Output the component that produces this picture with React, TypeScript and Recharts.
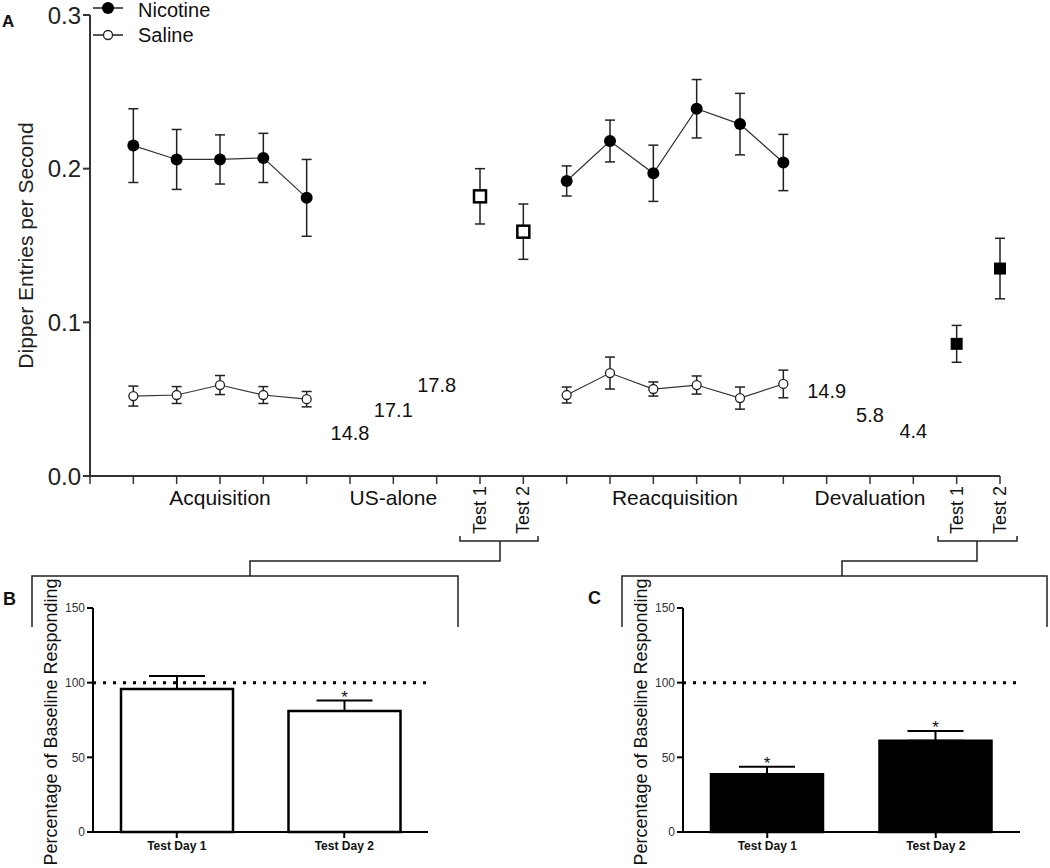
import React from 'react';
import {
  ComposedChart,
  Scatter,
  Bar,
  XAxis,
  YAxis,
  ErrorBar,
  ReferenceLine,
  LabelList,
} from 'recharts';

const FONT = 'Arial, "Liberation Sans", Helvetica, sans-serif';

// session slots along the panel A x axis
const acqSlots = [1, 2, 3, 4, 5];
const usAloneSlots = [6, 7, 8];
const extTestSlots = [9, 10];
const reacqSlots = [11, 12, 13, 14, 15, 16];
const devalSlots = [17, 18, 19];
const devalTestSlots = [20, 21];
const slotTicks = [0, 1, 2, 3, 4, 5, 6, 7, 8, 9, 10, 11, 12, 13, 14, 15, 16, 17, 18, 19, 20, 21];

// dipper entries per second
const nicotineAcq = [0.215, 0.206, 0.206, 0.207, 0.181];
const nicotineAcqErr = [0.024, 0.0195, 0.016, 0.016, 0.025];
const salineAcq = [0.052, 0.0527, 0.0592, 0.0527, 0.05];
const salineAcqErr = [0.0065, 0.0055, 0.0062, 0.0055, 0.005];
const extinctionTest = [0.182, 0.159];
const extinctionTestErr = [0.018, 0.018];
const nicotineReacq = [0.192, 0.218, 0.197, 0.239, 0.229, 0.204];
const nicotineReacqErr = [0.0098, 0.0136, 0.0183, 0.019, 0.02, 0.0183];
const salineReacq = [0.0527, 0.067, 0.0566, 0.0592, 0.0507, 0.0599];
const salineReacqErr = [0.0052, 0.0104, 0.0046, 0.0059, 0.0072, 0.009];
const devaluationTest = [0.086, 0.135];
const devaluationTestErr = [0.012, 0.0197];

// printed numbers for US-alone and devaluation sessions
const usAloneNotes = ['14.8', '17.1', '17.8'];
const usAloneNoteY = [0.028, 0.043, 0.059];
const devalNotes = ['14.9', '5.8', '4.4'];
const devalNoteY = [0.055, 0.04, 0.029];

// phase labels under the axis
const phaseNames = ['Acquisition', 'US-alone', 'Test 1', 'Test 2', 'Reacquisition', 'Devaluation', 'Test 1', 'Test 2'];
const phaseCenters = [3, 7, 9, 10, 13.5, 18, 20, 21];
const phaseVertical = [false, false, true, true, false, false, true, true];

// panels B and C
const testDays = ['Test Day 1', 'Test Day 2'];
const extinctionPct = [95.7, 81.0];
const extinctionPctErr = [8.7, 7.0];
const extinctionSig = [false, true];
const devaluationPct = [38.6, 61.1];
const devaluationPctErr = [5.1, 6.5];
const devaluationSig = [true, true];

const pts = (slots: number[], vals: number[], errs: number[]) =>
  slots.map((x, i) => ({ x, y: vals[i], err: errs[i] }));

const notes = (slots: number[], labels: string[], ys: number[]) =>
  slots.map((x, i) => ({ x, y: ys[i], note: labels[i] }));

const bars = (vals: number[], errs: number[], sig: boolean[]) =>
  testDays.map((name, i) => ({ name, value: vals[i], err: [0, errs[i]], up: errs[i], sig: sig[i] ? 1 : 0 }));

const FilledCircle = (p: any) => <circle cx={p.cx} cy={p.cy} r={6} fill="#000" />;
const OpenCircle = (p: any) => (
  <circle cx={p.cx} cy={p.cy} r={4.5} fill="#fff" stroke="#222" strokeWidth={1.3} />
);
const OpenSquare = (p: any) => (
  <rect x={p.cx - 6} y={p.cy - 6} width={12} height={12} fill="#fff" stroke="#000" strokeWidth={2.5} />
);
const FilledSquare = (p: any) => <rect x={p.cx - 6} y={p.cy - 6} width={12} height={12} fill="#000" />;
const NoteText = (p: any) => (
  <text x={p.cx} y={p.cy} textAnchor="middle" dominantBaseline="central" fontSize={20} fill="#111" fontFamily={FONT}>
    {p.payload.note}
  </text>
);

const PhaseTick = (props: any) => {
  const { x, y, payload } = props;
  const i = phaseCenters.indexOf(payload.value);
  if (i < 0) return null;
  if (phaseVertical[i]) {
    return (
      <text x={x} y={y + 2} transform={`rotate(-90 ${x} ${y + 2})`} textAnchor="end" dominantBaseline="central"
        fontSize={18} fill="#111" fontFamily={FONT}>
        {phaseNames[i]}
      </text>
    );
  }
  return (
    <text x={x} y={y + 13} textAnchor="middle" dominantBaseline="central" fontSize={21} fill="#111" fontFamily={FONT}>
      {phaseNames[i]}
    </text>
  );
};

const errProps = { dataKey: 'err', direction: 'y' as const, width: 5, stroke: '#222', strokeWidth: 1.5 };
const lineStyle = { stroke: '#333', strokeWidth: 1.2 };

const PanelA = () => (
  <ComposedChart width={1050} height={560} margin={{ top: 15, right: 50, left: 10, bottom: 0 }}>
    <XAxis xAxisId={0} type="number" dataKey="x" domain={[0, 21]} ticks={slotTicks} interval={0}
      tickFormatter={() => ''} height={8} tickSize={8} stroke="#333" strokeWidth={2}
      tickLine={{ stroke: '#333', strokeWidth: 1.5 }} />
    <XAxis xAxisId="phase" type="number" dataKey="x" domain={[0, 21]} ticks={phaseCenters} interval={0}
      axisLine={false} tickLine={false} tickSize={0} tickMargin={0} height={76} tick={<PhaseTick />} />
    <YAxis type="number" dataKey="y" domain={[0, 0.3]} ticks={[0, 0.1, 0.2, 0.3]} width={80}
      tickFormatter={(v: number) => v.toFixed(1)} tickSize={7} tickMargin={2}
      stroke="#333" strokeWidth={2} tick={{ fontSize: 24, fill: '#222', fontFamily: FONT }}
      label={{ value: 'Dipper Entries per Second', angle: -90, position: 'insideLeft', offset: 16,
        style: { textAnchor: 'middle', fontSize: 21, fill: '#222', fontFamily: FONT } }} />
    <Scatter data={pts(acqSlots, nicotineAcq, nicotineAcqErr)} dataKey="y" line={lineStyle} shape={FilledCircle} isAnimationActive={false}>
      <ErrorBar {...errProps} />
    </Scatter>
    <Scatter data={pts(acqSlots, salineAcq, salineAcqErr)} dataKey="y" line={lineStyle} shape={OpenCircle} isAnimationActive={false}>
      <ErrorBar {...errProps} />
    </Scatter>
    <Scatter data={pts(extTestSlots, extinctionTest, extinctionTestErr)} dataKey="y" shape={OpenSquare} isAnimationActive={false}>
      <ErrorBar {...errProps} />
    </Scatter>
    <Scatter data={pts(reacqSlots, nicotineReacq, nicotineReacqErr)} dataKey="y" line={lineStyle} shape={FilledCircle} isAnimationActive={false}>
      <ErrorBar {...errProps} />
    </Scatter>
    <Scatter data={pts(reacqSlots, salineReacq, salineReacqErr)} dataKey="y" line={lineStyle} shape={OpenCircle} isAnimationActive={false}>
      <ErrorBar {...errProps} />
    </Scatter>
    <Scatter data={pts(devalTestSlots, devaluationTest, devaluationTestErr)} dataKey="y" shape={FilledSquare} isAnimationActive={false}>
      <ErrorBar {...errProps} />
    </Scatter>
    <Scatter xAxisId="phase" data={notes(usAloneSlots, usAloneNotes, usAloneNoteY)} dataKey="y" shape={NoteText} isAnimationActive={false} />
    <Scatter xAxisId="phase" data={notes(devalSlots, devalNotes, devalNoteY)} dataKey="y" shape={NoteText} isAnimationActive={false} />
  </ComposedChart>
);

const makeStar = (rows: any[]) => (props: any) => {
  const { x, y, width, height, index } = props;
  const row = rows[index];
  if (!row || !row.sig) return null;
  const capY = y - (row.up * height) / row.value;
  return (
    <text x={x + width / 2} y={capY + 2} textAnchor="middle" fontSize={17} fill="#111" fontFamily={FONT}>
      *
    </text>
  );
};

const PercentPanel = ({ rows, fill, right }: { rows: any[]; fill: string; right: number }) => (
  <ComposedChart width={440} height={298} data={rows} margin={{ top: 38, right, left: 0, bottom: 0 }}>
    <XAxis dataKey="name" height={36} tickSize={6} tickMargin={3} stroke="#000" strokeWidth={2}
      tick={{ fontSize: 12, fontWeight: 'bold', fill: '#111', fontFamily: FONT }} />
    <YAxis domain={[0, 150]} ticks={[0, 50, 100, 150]} width={93} tickSize={6} tickMargin={2}
      stroke="#000" strokeWidth={2} tick={{ fontSize: 12, fill: '#333', fontFamily: FONT }}
      label={{ value: 'Percentage of Baseline Responding', angle: -90, position: 'insideLeft', offset: 51, dy: 2,
        style: { textAnchor: 'middle', fontSize: 18, fill: '#111', fontFamily: FONT } }} />
    <Bar dataKey="value" barSize={112} fill={fill} stroke="#000" strokeWidth={2.5} isAnimationActive={false}>
      <ErrorBar dataKey="err" direction="y" width={28} stroke="#000" strokeWidth={2} />
      <LabelList dataKey="sig" content={makeStar(rows)} />
    </Bar>
    <ReferenceLine y={100} stroke="#000" strokeWidth={3} strokeDasharray="3 7" />
  </ComposedChart>
);

const Overlay = () => (
  <svg width={1050} height={868} style={{ position: 'absolute', left: 0, top: 0, pointerEvents: 'none' }}>
    <g fill="none" stroke="#222" strokeWidth={1.5}>
      <path d="M460,536 V541 H538 V536 M500,541 V561 H250 V576 M32,627 V576 H458 V627" />
      <path d="M938,536 V541 H1017 V536 M977,541 V561 H842 V576 M622,627 V576 H1047 V627" />
    </g>
    <g fontFamily={FONT}>
      <line x1={93} y1={8} x2={123} y2={8} stroke="#222" strokeWidth={1.5} />
      <circle cx={108} cy={8} r={6} fill="#000" />
      <text x={138} y={10} dominantBaseline="central" fontSize={20} fill="#111">Nicotine</text>
      <line x1={93} y1={35} x2={123} y2={35} stroke="#222" strokeWidth={1.5} />
      <circle cx={108} cy={35} r={4.5} fill="#fff" stroke="#222" strokeWidth={1.3} />
      <text x={138} y={35} dominantBaseline="central" fontSize={20} fill="#111">Saline</text>
      <text x={2} y={27} fontSize={17} fontWeight="bold" fill="#111">A</text>
      <text x={3} y={605} fontSize={18} fontWeight="bold" fill="#111">B</text>
      <text x={588} y={604} fontSize={18} fontWeight="bold" fill="#111">C</text>
    </g>
  </svg>
);

export default function App() {
  return (
    <div style={{ position: 'absolute', left: 0, top: 0, width: 1050, height: 868, background: '#fff', fontFamily: FONT, overflow: 'hidden' }}>
      <div style={{ position: 'absolute', left: 0, top: 0 }}>
        <PanelA />
      </div>
      <div style={{ position: 'absolute', left: 0, top: 570 }}>
        <PercentPanel rows={bars(extinctionPct, extinctionPctErr, extinctionSig)} fill="#fff" right={12} />
      </div>
      <div style={{ position: 'absolute', left: 590, top: 570 }}>
        <PercentPanel rows={bars(devaluationPct, devaluationPctErr, devaluationSig)} fill="#000" right={10} />
      </div>
      <Overlay />
    </div>
  );
}
